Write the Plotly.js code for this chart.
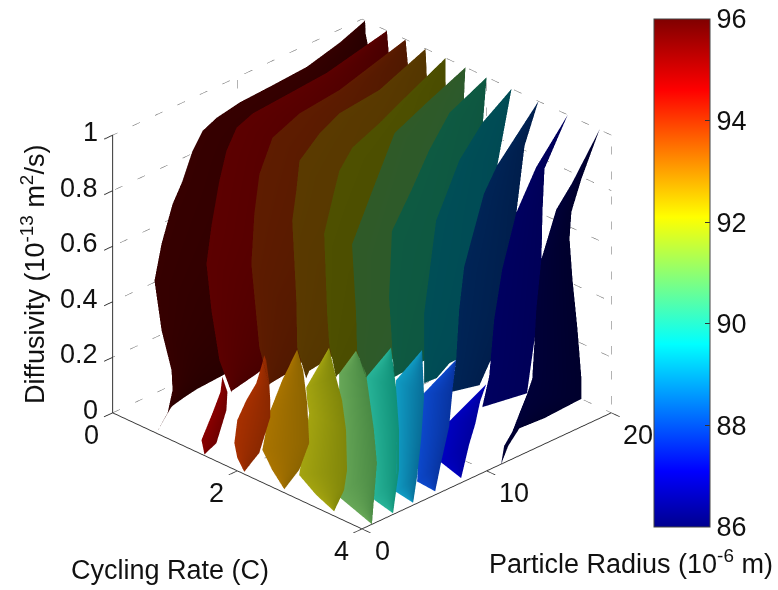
<!DOCTYPE html>
<html><head><meta charset="utf-8"><script src="https://cdn.plot.ly/plotly-3.0.1.min.js"></script>
<style>html,body{margin:0;padding:0;background:#fff}#c{width:778px;height:590px}</style></head>
<body><div id="c"></div>
<script>
const rateTicks=[0,2,4], radiusTicks=[0,10,20], diffTicks=[0,0.2,0.4,0.6,0.8,1], capTicks=[86,88,90,92,94,96];
// Iso-capacity sheets: each row holds [left edge, right edge]
const s1x=[[.05,.05],[.225,.06],[.379,.10],[.421,.128],[.454,.16],[.532,.16],[.646,.16],[.913,.16],[1.12,.16],[.96,.16],[.784,.10],[.67,.14],[.784,.24],[.944,.269],[.96,.31],[.88,.365],[.70,.70]];
const s1y=[[20,20],[17.1,20],[13.68,20],[10.74,20],[7.92,20],[5.69,20],[3.98,20],[1.84,20],[0,20],[0,20],[0,17.7],[0,13.5],[0,7.55],[0,5.4],[0,4.2],[0,2.9],[0,0]];
const s1z=[[1,1],[1,.952],[1,.913],[1,.798],[1,.658],[1,.51],[1,.371],[1,.225],[.952,.085],[.852,.013],[.691,0],[.546,0],[.379,0],[.252,0],[.182,0],[.091,0],[0,0]];
const s2x=[[.40,.40],[.642,.432],[.696,.45],[.748,.48],[.864,.48],[1.184,.48],[1.65,.48],[1.584,.48],[1.504,.363],[1.584,.313],[1.712,.485],[1.904,.581]];
const s2y=[[20,20],[13.97,20],[10.72,20],[7.49,20],[5.62,20],[3.2,20],[.3,20],[0,20],[0,16.4],[0,12.6],[0,9.13],[0,6.64]];
const s2z=[[1,1],[1,.919],[1,.8],[1,.655],[1,.49],[1,.333],[1,.2],[.838,.082],[.694,0],[.534,0],[.368,0],[.273,0]];
const s3x=[[.70,.70],[1.04,.736],[1.122,.768],[1.324,.768],[1.846,.768],[2.272,.428],[2.224,.552],[2.352,.723],[2.512,.762]];
const s3y=[[20,20],[13,20],[9.39,20],[6.2,20],[2.54,20],[0,18.5],[0,13.86],[0,10.35],[0,8.79]];
const s3z=[[1,1],[1,.916],[1,.686],[1,.363],[1,.112],[.953,0],[.769,0],[.481,0],[.361,0]];
const s4x=[[1.02,1.02],[1.359,1.04],[1.44,1.072],[1.628,1.072],[1.938,1.072],[2.435,.8],[2.88,.696],[2.944,.8],[2.96,.855],[3.104,.935]];
const s4y=[[20,20],[14.6,20],[11,20],[8.45,20],[5.29,20],[2.55,18.6],[0,16.3],[0,13.4],[0,11.5],[0,10.9]];
const s4z=[[1,1],[1,.907],[1,.645],[1,.358],[1,.107],[1,0],[.991,0],[.722,0],[.544,0],[.448,0]];
const s5x=[[1.34,1.34],[1.715,1.344],[1.93,1.392],[2.134,1.392],[2.43,1.392],[2.737,1.086],[3.392,.935],[3.44,1.043],[3.472,1.087],[3.584,1.156]];
const s5y=[[20,20],[14.7,20],[11.76,20],[8.56,20],[6.03,20],[4.09,19.2],[0,17.56],[0,14.6],[0,13.4],[0,12.2]];
const s5z=[[1,1],[1,.892],[1,.643],[1,.356],[1,.105],[1,0],[1,0],[.716,0],[.612,0],[.501,0]];
const s6x=[[1.66,1.66],[1.958,1.632],[2.224,1.68],[3.039,1.68],[3.8,1.68],[3.904,1.29],[3.92,1.267],[4,1.375]];
const s6y=[[20,20],[15.4,20],[11.49,20],[5.63,20],[.2,20],[0,20],[0,17.5],[.32,14.5]];
const s6z=[[1,1],[1,.865],[1,.637],[1,.349],[1,.098],[.764,0],[.633,0],[.538,0]];
const s7x=[[2,2],[2.314,1.936],[2.797,2],[3.349,2],[3.89,2],[4,1.54],[4,1.62]];
const s7y=[[20,20],[15.45,20],[11.4,20],[7.2,20],[2.95,20],[2.17,19.75],[2.57,16.1]];
const s7z=[[1,1],[1,.818],[1,.634],[1,.384],[1,.133],[.787,0],[.493,0]];
const s8x=[[2.4,2.4],[2.75,2.32],[3.21,2.176],[3.882,2.208],[4,2.208],[4,1.835],[4,1.846],[4,2]];
const s8y=[[20,20],[15.9,20],[11.76,20],[6.94,20],[5.94,20],[4.98,20],[4.98,17.8],[4.98,16]];
const s8z=[[1,1],[1,.894],[1,.706],[1,.441],[.986,.19],[.672,0],[.529,0],[.421,0]];
const s9x=[[2.83,2.83],[3.6,2.608],[3.98,2.48],[4,2.45],[4,2.37],[4,2.164],[4,2.466]];
const s9y=[[20,20],[12.85,20],[9.89,20],[8.19,20],[7.79,20],[7.55,19.4],[7.23,17.1]];
const s9z=[[1,1],[1,.816],[1,.566],[.772,.287],[.626,.171],[.452,0],[.343,0]];
const s10x=[[3.3,3.3],[3.944,2.928],[4,2.896],[4,2.88],[4,2.85],[4,2.77],[4,2.987]];
const s10y=[[20,20],[14.26,20],[12.37,20],[11.24,20],[10.6,20],[10.2,20],[9.64,18.3]];
const s10z=[[1,1],[1,.767],[.88,.609],[.699,.439],[.533,.292],[.337,.141],[.237,0]];
const s11x=[[3.81,3.81],[4,3.52],[4,3.36],[4,3.33],[4,3.376],[4,3.456],[4,3.52],[4,3.52],[4,3.556],[4,3.53],[4,4],[4,4]];
const s11y=[[20,20],[16.87,20],[15.58,20],[14.38,20],[13.98,20],[13.82,20],[13.65,20],[13.25,20],[12.61,16.85],[12.05,14.97],[11.4,11.73],[11.16,11.16]];
const s11z=[[1,1],[.895,.792],[.825,.657],[.67,.558],[.499,.419],[.377,.248],[.255,.075],[.21,0],[.151,0],[.098,0],[.061,.054],[0,0]];
// Lower, lit parts of the sheets
const p2x=[[1.74,1.74],[1.709,1.821],[1.581,1.805],[1.405,1.645],[1.453,1.453]];
const p2y=[[.1,.1],[.1,.1],[.1,.1],[.1,.1],[.1,.1]];
const p2z=[[.309,.309],[.251,.263],[.162,.196],[.047,.061],[0,0]];
const p3x=[[2.392,2.392],[2.36,2.424],[2.264,2.472],[2.104,2.488],[1.96,2.488],[1.912,2.312],[1.96,2.184],[2.072,2.072]];
const p3y=[[.2,.2],[.2,.2],[.2,.2],[.2,.2],[.2,.2],[.2,.2],[.2,.2],[.2,.2]];
const p3z=[[.453,.453],[.42,.438],[.339,.361],[.261,.301],[.175,.24],[.087,.093],[.038,.044],[0,0]];
const p4x=[[2.9,2.9],[2.66,2.997],[2.453,3.061],[2.341,3.093],[2.5,2.933],[2.693,2.693]];
const p4y=[[.3,.3],[.3,.3],[.3,.3],[.3,.3],[.3,.3],[.3,.3]];
const p4z=[[.525,.525],[.389,.459],[.249,.348],[.105,.208],[.049,.095],[0,0]];
const p5x=[[3.392,3.392],[3.024,3.504],[3.04,3.6],[3.072,3.664],[2.912,3.68],[3.184,3.632],[3.472,3.472]];
const p5y=[[.4,.4],[.4,.4],[.4,.4],[.4,.4],[.4,.4],[.4,.4],[.4,.4]];
const p5z=[[.581,.581],[.399,.485],[.354,.413],[.311,.312],[.072,.17],[.029,.093],[0,0]];
const p6x=[[3.805,3.805],[3.533,3.965],[3.533,4],[3.533,4],[4,4]];
const p6y=[[.5,.5],[.5,.5],[.5,.96],[.5,1.2],[.8,.8]];
const p6z=[[.611,.611],[.5,.545],[.296,.335],[.056,.212],[0,0]];
const p7x=[[3.98,3.98],[3.8,3.98],[3.8,3.98],[3.8,3.98],[3.98,3.98]];
const p7y=[[2.43,2.43],[1.33,2.83],[1.73,3.07],[1.97,3.07],[2.59,2.59]];
const p7z=[[.6,.6],[.497,.449],[.263,.29],[.043,.147],[0,0]];
const p8x=[[3.96,3.96],[3.96,3.96],[3.96,3.96],[3.96,3.96],[3.96,3.96]];
const p8y=[[5.02,5.02],[2.93,5.18],[2.93,4.94],[2.93,4.62],[4.3,4.3]];
const p8z=[[.535,.535],[.47,.363],[.255,.214],[.068,.088],[0,0]];
const p9x=[[3.94,3.94],[3.94,3.94],[3.94,3.94],[3.94,3.94],[3.94,3.94]];
const p9y=[[7.85,7.85],[5.28,7.53],[4.96,7.29],[4.72,6.65],[6.17,6.17]];
const p9z=[[.439,.439],[.373,.32],[.211,.21],[.066,.095],[0,0]];
const p10x=[[3.92,3.92],[3.92,3.92],[3.92,3.92],[3.92,3.92],[3.92,3.92]];
const p10y=[[10.36,10.36],[9,9.88],[7.39,9.48],[6.75,9],[8.35,8.35]];
const p10z=[[.296,.296],[.263,.245],[.224,.171],[.09,.109],[0,0]];
const sheetColors=[['#360000','#280000'],['#5c0000','#480000'],['#5e1c00','#501800'],['#5a3a00','#543600'],['#4e5000','#4a4c00'],['#2f5a28','#2c5a2c'],['#0e5a42','#0e5640'],['#004e56','#004a54'],['#002456','#001e4c'],['#000060','#000058'],['#000038','#00002c']];
const petalColors=[['#8a0000','#700000'],['#a83000','#8a2800'],['#aa7400','#8c6400'],['#a4a410','#80860a'],['#68a858','#4a8a44'],['#28b498','#109078'],['#109cc4','#086e98'],['#0c48cc','#0834a0'],['#0000c0','#0000a0']];

const flat={showscale:false,cmin:0,cmax:1,hoverinfo:'skip',
  lighting:{ambient:1,diffuse:0,specular:0,roughness:1,fresnel:0},
  contours:{x:{show:false},y:{show:false},z:{show:false}}};
function piece(x,y,z,c){
  return Object.assign({type:'surface',x:x,y:y,z:z,surfacecolor:x.map(()=>[0,1]),colorscale:[[0,c[0]],[1,c[1]]]},flat);
}
const sheets=[[s1x,s1y,s1z],[s2x,s2y,s2z],[s3x,s3y,s3z],[s4x,s4y,s4z],[s5x,s5y,s5z],[s6x,s6y,s6z],[s7x,s7y,s7z],[s8x,s8y,s8z],[s9x,s9y,s9z],[s10x,s10y,s10z],[s11x,s11y,s11z]];
const petals=[[p2x,p2y,p2z],[p3x,p3y,p3z],[p4x,p4y,p4z],[p5x,p5y,p5z],[p6x,p6y,p6z],[p7x,p7y,p7z],[p8x,p8y,p8z],[p9x,p9y,p9z],[p10x,p10y,p10z]];
const traces=[];
sheets.forEach((s,i)=>traces.push(piece(s[0],s[1],s[2],sheetColors[i])));
petals.forEach((s,i)=>traces.push(piece(s[0],s[1],s[2],petalColors[i])));

// dotted grid and back box edges
const gx=[],gy=[],gz=[];
function seg(a,b){gx.push(a[0],b[0],null);gy.push(a[1],b[1],null);gz.push(a[2],b[2],null);}
diffTicks.forEach(z=>{ seg([0,0,z],[0,20,z]); seg([0,20,z],[4,20,z]); });
seg([0,10,0],[0,10,1]); seg([2,20,0],[2,20,1]);
seg([0,20,0],[0,20,1]); seg([4,20,0],[4,20,1]);
seg([2,0,0],[2,20,0]); seg([0,10,0],[4,10,0]);
traces.push({type:'scatter3d',mode:'lines',x:gx,y:gy,z:gz,hoverinfo:'skip',showlegend:false,connectgaps:false,
  line:{color:'#666666',width:1,dash:'dot'}});
// colour bar carrier
traces.push({type:'scatter3d',mode:'markers',x:[2],y:[10],z:[.5],hoverinfo:'skip',showlegend:false,
  marker:{size:1,opacity:0,color:[91],cmin:86,cmax:96,
    colorscale:[[0,'#00008f'],[.11,'#0000ff'],[.36,'#00ffff'],[.61,'#ffff00'],[.86,'#ff0000'],[1,'#800000']],
    showscale:true,
    colorbar:{x:654/778,xanchor:'left',y:1-527/590,yanchor:'bottom',len:508,lenmode:'pixels',thickness:56,thicknessmode:'pixels',
      tickvals:capTicks,ticks:'inside',ticklen:5,tickcolor:'#333',tickwidth:1,outlinecolor:'#444',outlinewidth:1,
      tickfont:{family:'Liberation Sans',size:27,color:'#111'},xpad:0,ypad:0}}});

const axisBase={showbackground:false,showgrid:false,zeroline:false,showline:true,linecolor:'#333',linewidth:2,
  showspikes:false,ticks:'outside',ticklen:12,tickwidth:2,tickcolor:'#333',showticklabels:false,title:{text:''}};
const tfont={family:'Liberation Sans',size:27,color:'#111'};
const tickFont={family:'Liberation Sans',size:27,color:'#111'};
const tickNotes=[];
function note(x,y,z,t,sx,sy,anchor){tickNotes.push({x:x,y:y,z:z,text:t,showarrow:false,font:tickFont,xshift:sx,yshift:-sy,xanchor:anchor||'center',yanchor:'middle'});}
rateTicks.forEach(v=>note(v,0,0,String(v),-21,22));
radiusTicks.forEach(v=>note(4,v,0,String(v),v===0?20:27,22));
diffTicks.forEach(v=>note(0,0,v,String(v),-13,-3,'right'));
const layout={width:778,height:590,margin:{l:0,r:0,t:0,b:0},paper_bgcolor:'#fff',showlegend:false,
  scene:{domain:{x:[0,724/778],y:[42/590,1]},aspectmode:'manual',aspectratio:{x:1.287,y:1.287,z:1.145},
    camera:{projection:{type:'orthographic'},up:{x:0,y:0,z:1},center:{x:0,y:0,z:0},eye:{x:1.25,y:-1.25,z:.93}},
    annotations:tickNotes,
    xaxis:Object.assign({},axisBase,{range:[0,4],tickvals:rateTicks}),
    yaxis:Object.assign({},axisBase,{range:[0,20],tickvals:radiusTicks}),
    zaxis:Object.assign({},axisBase,{range:[0,1],tickvals:diffTicks})},
  annotations:[
   {xref:'paper',yref:'paper',x:170/778,y:1-570/590,xanchor:'center',yanchor:'middle',text:'Cycling Rate (C)',showarrow:false,font:tfont},
   {xref:'paper',yref:'paper',x:631/778,y:1-562/590,xanchor:'center',yanchor:'middle',text:'Particle Radius (10<sup>-6</sup> m)',showarrow:false,font:tfont},
   {xref:'paper',yref:'paper',x:33/778,y:1-275/590,xanchor:'center',yanchor:'middle',text:'Diffusivity (10<sup>-13</sup> m<sup>2</sup>/s)',textangle:-90,showarrow:false,font:tfont}
  ]};
Plotly.newPlot('c',traces,layout,{displayModeBar:false});
</script></body></html>
